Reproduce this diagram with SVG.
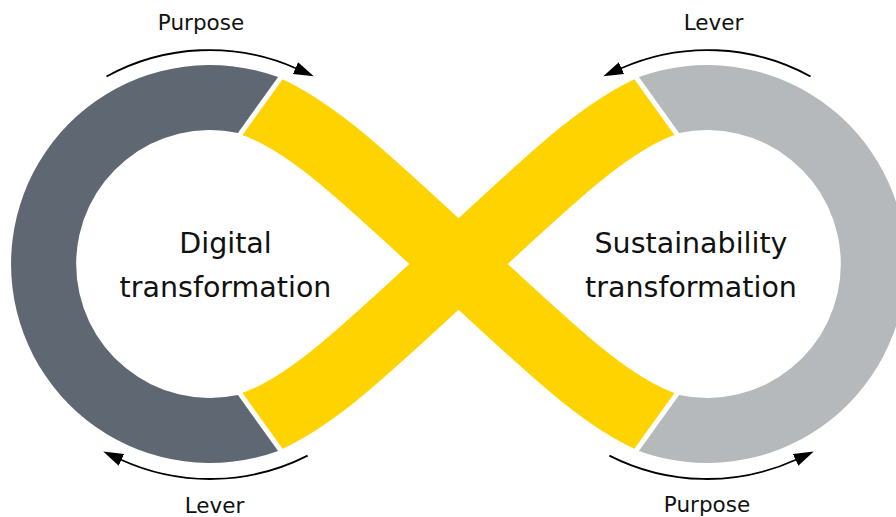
<svg xmlns="http://www.w3.org/2000/svg" width="896" height="517" viewBox="0 0 896 517">
  <style>
    .title { font-family: "DejaVu Sans", "Noto Sans", sans-serif; font-size: 28.5px; fill: #111; text-anchor: middle; }
    .label { font-family: "DejaVu Sans", "Noto Sans", sans-serif; font-size: 21.5px; fill: #111; text-anchor: middle; }
    .band { fill: none; stroke: #FFD300; stroke-width: 67; }
    .arrow { fill: none; stroke: #000; stroke-width: 1.8; marker-end: url(#head); }
  </style>
  <defs>
    <marker id="head" markerUnits="userSpaceOnUse" markerWidth="22" markerHeight="14" viewBox="0 -7 22 14" refX="1" refY="0" orient="auto">
      <path d="M0,-6.5 L20,0 L0,6.5 Z" fill="#000"/>
    </marker>
    <clipPath id="bandClip">
      <polygon points="375.6,-50 149.8,264 375.6,578 541.4,578 767.2,264 541.4,-50"/>
    </clipPath>
  </defs>
  <rect width="896" height="517" fill="#fff"/>

  <g id="infinity-band" clip-path="url(#bandClip)">
    <path class="band" d="M248.4,101.7 C302.1,118.1 356.8,169.1 458.5,264 S614.9,409.9 668.6,426.3"/>
    <path class="band" d="M248.4,426.3 C302.1,409.9 356.8,358.9 458.5,264 S614.9,118.1 668.6,101.7"/>
  </g>

  <g id="digital-transformation">
    <path fill="#5F6872" d="M278.1,77 A199,199 0 1 0 278.1,451 L237.9,395.1 A134,134 0 1 1 237.9,132.9 Z"/>
    <text class="title" x="225.5" y="253">Digital</text>
    <text class="title" x="225.5" y="297">transformation</text>
  </g>

  <g id="sustainability-transformation">
    <path fill="#B5B9BB" transform="matrix(-1 0 0 1 917 0)" d="M278.1,77 A199,199 0 1 0 278.1,451 L237.9,395.1 A134,134 0 1 1 237.9,132.9 Z"/>
    <text class="title" x="691" y="253">Sustainability</text>
    <text class="title" x="691" y="297">transformation</text>
  </g>

  <g id="connectors">
    <path class="arrow" d="M106.5,76.5 A214,214 0 0 1 296.4,68.5"/>
    <path class="arrow" d="M810.5,76.5 A214,214 0 0 0 620.6,68.5"/>
    <path class="arrow" d="M307.6,455.6 A215,215 0 0 1 120.5,459.5"/>
    <path class="arrow" d="M609.4,455.6 A215,215 0 0 0 796.5,459.5"/>
  </g>

  <g id="labels">
    <text class="label" x="201" y="30">Purpose</text>
    <text class="label" x="713.5" y="30">Lever</text>
    <text class="label" x="214.5" y="513">Lever</text>
    <text class="label" x="707" y="512">Purpose</text>
  </g>
</svg>
